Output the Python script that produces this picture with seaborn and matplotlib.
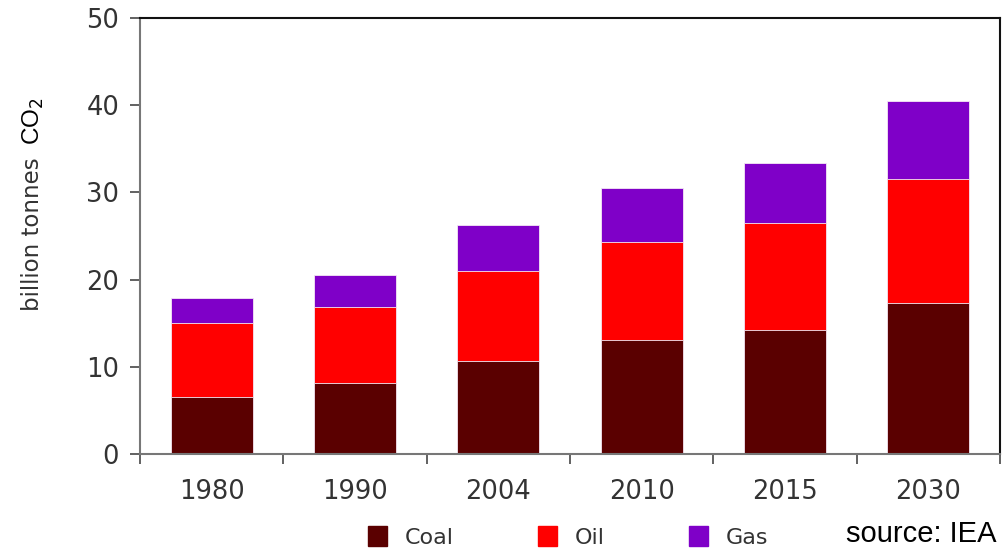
import matplotlib
matplotlib.use("Agg")
import matplotlib.pyplot as plt
import seaborn as sns
import pandas as pd
import numpy as np
from matplotlib.patches import Patch

years = ["1980", "1990", "2004", "2010", "2015", "2030"]
coal = [6.5, 8.1, 10.7, 13.1, 14.2, 17.3]
oil = [8.5, 8.8, 10.3, 11.2, 12.3, 14.2]
gas = [2.9, 3.6, 5.3, 6.2, 6.9, 9.0]
fuels = ["Coal", "Oil", "Gas"]
colors = {"Coal": "#5a0000", "Oil": "#ff0000", "Gas": "#7f00c8"}

sns.set_style("white")
plt.rcParams['font.family'] = ['DejaVu Sans']

df = pd.DataFrame({"year": years, "Coal": coal, "Oil": oil, "Gas": gas})
df["Coal_top"] = df["Coal"]
df["Oil_top"] = df["Coal"] + df["Oil"]
df["Gas_top"] = df["Oil_top"] + df["Gas"]

fig = plt.figure(figsize=(10.02, 5.5), dpi=100)
ax = fig.add_axes([140 / 1002, 1 - 454 / 550, 860 / 1002, 436 / 550])

# stacked bars drawn tallest first
for f in ["Gas", "Oil", "Coal"]:
    sns.barplot(data=df, x="year", y=f + "_top", color=colors[f], width=0.57,
                saturation=1, ax=ax, order=years, edgecolor="#f4e8f4", linewidth=0.6)

ax.set_xlim(-0.5, len(years) - 0.5)
ax.set_ylim(0, 50)
ax.set_yticks(np.arange(0, 51, 10))
ax.set_xlabel("")
ax.set_ylabel("")

# ticks on x sit between the categories
ax.set_xticks(np.arange(-0.5, len(years), 1.0), minor=True)
ax.tick_params(axis="x", which="major", length=0, pad=18, labelsize=18.5, labelcolor="#333333")
ax.tick_params(axis="x", which="minor", length=7, width=1.3, color="#555555", direction="out")
ax.tick_params(axis="y", length=7, width=1.3, color="#555555", direction="out",
               pad=8, labelsize=18.5, labelcolor="#333333")
ax.xaxis.set_ticks_position("bottom")
ax.yaxis.set_ticks_position("left")

for side in ["left", "bottom"]:
    ax.spines[side].set_color("#777777")
    ax.spines[side].set_linewidth(1.5)
for side in ["top", "right"]:
    ax.spines[side].set_color("#111111")
    ax.spines[side].set_linewidth(1.5)

fig.text(33 / 1002, 1 - 234 / 550, "billion tonnes", rotation=90, ha="center", va="center",
         fontsize=16.5, color="#333333")
fig.text(33 / 1002, 1 - 121 / 550, "CO$_2$", rotation=90, ha="center", va="center",
         fontsize=17.5, color="black", family="Liberation Sans")

handles = [Patch(facecolor=colors[f], edgecolor=colors[f]) for f in fuels]
fig.legend(handles, fuels, loc="center", bbox_to_anchor=(568 / 1002, 1 - 537 / 550), ncol=3,
           frameon=False, handlelength=0.85, handleheight=1.0, handletextpad=0.8,
           columnspacing=3.8, fontsize=16, labelcolor="#333333")

fig.text(996 / 1002, 1 - 534 / 550, "source: IEA", ha="right", va="center",
         fontsize=21, color="black", family="Liberation Sans")

fig.savefig("out.png", dpi=100)
